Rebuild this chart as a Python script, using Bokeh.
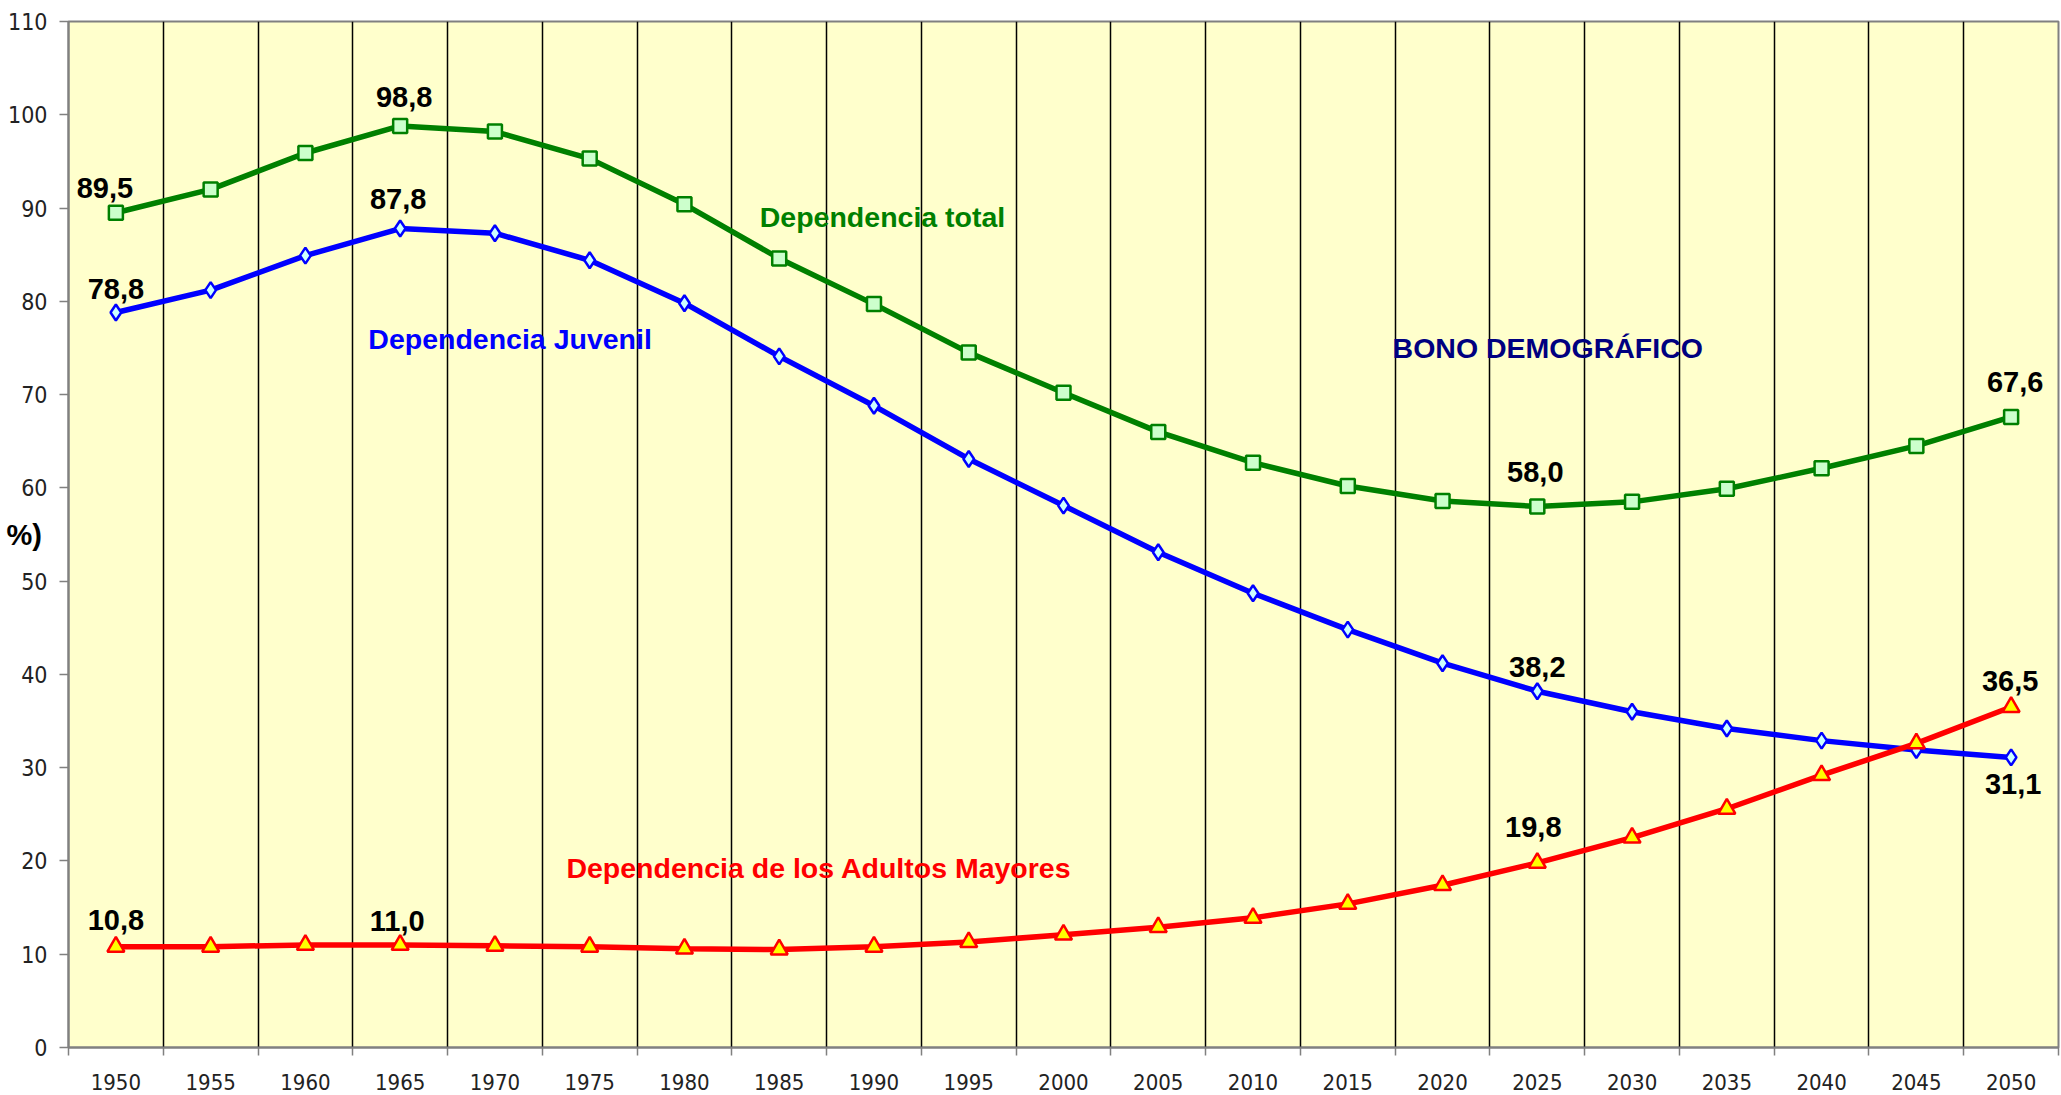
from bokeh.plotting import figure
from bokeh.models import FixedTicker, Range1d, Label, ColumnDataSource
from bokeh.embed import file_html
from bokeh.resources import INLINE
from bokeh.core.properties import value

years = [1950, 1955, 1960, 1965, 1970, 1975, 1980, 1985, 1990, 1995, 2000,
         2005, 2010, 2015, 2020, 2025, 2030, 2035, 2040, 2045, 2050]
dep_total = [89.5, 92.0, 95.9, 98.8, 98.2, 95.3, 90.4, 84.6, 79.7, 74.5, 70.2,
             66.0, 62.7, 60.2, 58.6, 58.0, 58.5, 59.9, 62.1, 64.5, 67.6]
dep_juvenil = [78.8, 81.2, 84.9, 87.8, 87.3, 84.4, 79.8, 74.1, 68.8, 63.1, 58.1,
               53.1, 48.7, 44.8, 41.2, 38.2, 36.0, 34.2, 32.9, 31.9, 31.1]
dep_adultos = [10.8, 10.8, 11.0, 11.0, 10.9, 10.8, 10.6, 10.5, 10.8, 11.3, 12.1,
               12.9, 13.9, 15.4, 17.4, 19.8, 22.5, 25.6, 29.2, 32.6, 36.5]
y_ticks = [0, 10, 20, 30, 40, 50, 60, 70, 80, 90, 100, 110]
y_title = "%)"
series = {"total": dep_total, "juvenil": dep_juvenil, "adultos": dep_adultos}
labeled_points = [("total", 1950), ("total", 1965), ("total", 2025), ("total", 2050),
                  ("juvenil", 1950), ("juvenil", 1965), ("juvenil", 2025), ("juvenil", 2050),
                  ("adultos", 1950), ("adultos", 1965), ("adultos", 2025), ("adultos", 2050)]
# label placement (pixels): dx, gap above point (negative = below)
label_style = [(-11, 14), (4, 19), (-2, 24), (4, 25),
               (0, 13), (-2, 19), (0, 14), (2, -16),
               (0, 16), (-3, 14), (-4, 25), (-1, 16)]

FONT_NARROW = "DejaVu Sans Condensed"
FONT_BOLD = "Liberation Sans"

p = figure(width=2061, height=1095, output_backend="svg", toolbar_location=None,
           x_range=Range1d(1947.5, 2052.5), y_range=Range1d(0, 110),
           min_border_left=68, min_border_top=21, min_border_right=3, min_border_bottom=48)
p.background_fill_color = "#FFFFCC"
p.border_fill_color = "white"
p.outline_line_color = "#808080"
p.outline_line_width = 2

bounds = [y - 2.5 for y in years] + [years[-1] + 2.5]

# x axis
p.xaxis.ticker = FixedTicker(ticks=years, minor_ticks=bounds)
p.xaxis.major_tick_out = 0
p.xaxis.major_tick_in = 0
p.xaxis.minor_tick_out = 8
p.xaxis.minor_tick_in = 0
p.xaxis.minor_tick_line_color = "#808080"
p.xaxis.minor_tick_line_width = 1.5
p.xaxis.axis_line_color = "#808080"
p.xaxis.axis_line_width = 2
p.xaxis.major_label_text_font = FONT_NARROW
p.xaxis.major_label_text_font_size = "22px"
p.xaxis.major_label_text_color = "#222222"
p.xaxis.major_label_standoff = 18

# y axis
p.yaxis.ticker = FixedTicker(ticks=y_ticks)
p.yaxis.major_tick_out = 9
p.yaxis.major_tick_in = 0
p.yaxis.minor_tick_out = 0
p.yaxis.minor_tick_in = 0
p.yaxis.major_tick_line_color = "#808080"
p.yaxis.major_tick_line_width = 1.5
p.yaxis.axis_line_color = "#808080"
p.yaxis.axis_line_width = 2
p.yaxis.major_label_text_font = FONT_NARROW
p.yaxis.major_label_text_font_size = "23px"
p.yaxis.major_label_text_color = "#222222"
p.yaxis.major_label_standoff = 12
p.yaxis.axis_label = y_title
p.yaxis.axis_label_orientation = "horizontal"
p.yaxis.axis_label_standoff = -37
p.yaxis.axis_label_text_font = FONT_BOLD
p.yaxis.axis_label_text_font_style = "bold"
p.yaxis.axis_label_text_font_size = "29px"
p.yaxis.axis_label_text_color = "black"

# grid
p.ygrid.grid_line_color = None
p.xgrid.ticker = FixedTicker(ticks=bounds[1:-1])
p.xgrid.grid_line_color = "black"
p.xgrid.grid_line_width = 1.5
p.xgrid.grid_line_alpha = 1.0

# series
p.line(years, dep_total, line_color="#008000", line_width=5.5)
p.scatter(years, dep_total, marker="square", size=14, fill_color="#CCFFCC",
          line_color="#008000", line_width=2.5)
p.line(years, dep_juvenil, line_color="#0000FF", line_width=5.5)
p.scatter(years, dep_juvenil, marker="diamond", size=16, fill_color="#CCFFFF",
          line_color="#0000FF", line_width=2.5)
p.line(years, dep_adultos, line_color="#FF0000", line_width=5.5)
p.scatter(years, dep_adultos, marker="triangle", size=17, fill_color="#FFFF00",
          line_color="#FF0000", line_width=2.5)


def fmt(v):
    return f"{v:.1f}".replace(".", ",")


CAP_HALF = 10.4
lx, ly, lt, xo, yo = [], [], [], [], []
for (name, yr), (dx, gap) in zip(labeled_points, label_style):
    v = series[name][years.index(yr)]
    lx.append(yr)
    ly.append(v)
    lt.append(fmt(v))
    xo.append(dx)
    yo.append(-(gap + CAP_HALF) if gap > 0 else (-gap + CAP_HALF))

p.text(x="x", y="y", text="t", x_offset="xo", y_offset="yo",
       source=ColumnDataSource(dict(x=lx, y=ly, t=lt, xo=xo, yo=yo)),
       text_font=value(FONT_BOLD), text_font_style="bold", text_font_size="29px",
       text_color="black", text_align="center", text_baseline="middle")

series_labels = [
    ("Dependencia total", 1990.45, 89.0, "#008000"),
    ("Dependencia Juvenil", 1970.8, 76.0, "#0000FF"),
    ("BONO DEMOGRÁFICO", 2025.55, 75.0, "#000080"),
    ("Dependencia de los Adultos Mayores", 1987.1, 19.2, "#FF0000"),
]
for txt, tx, ty, col in series_labels:
    p.add_layout(Label(x=tx, y=ty, text=txt, text_color=col, text_font=FONT_BOLD,
                       text_font_style="bold", text_font_size="28.5px",
                       text_align="center", text_baseline="middle"))

open("out.html", "w").write(file_html(p, INLINE))
